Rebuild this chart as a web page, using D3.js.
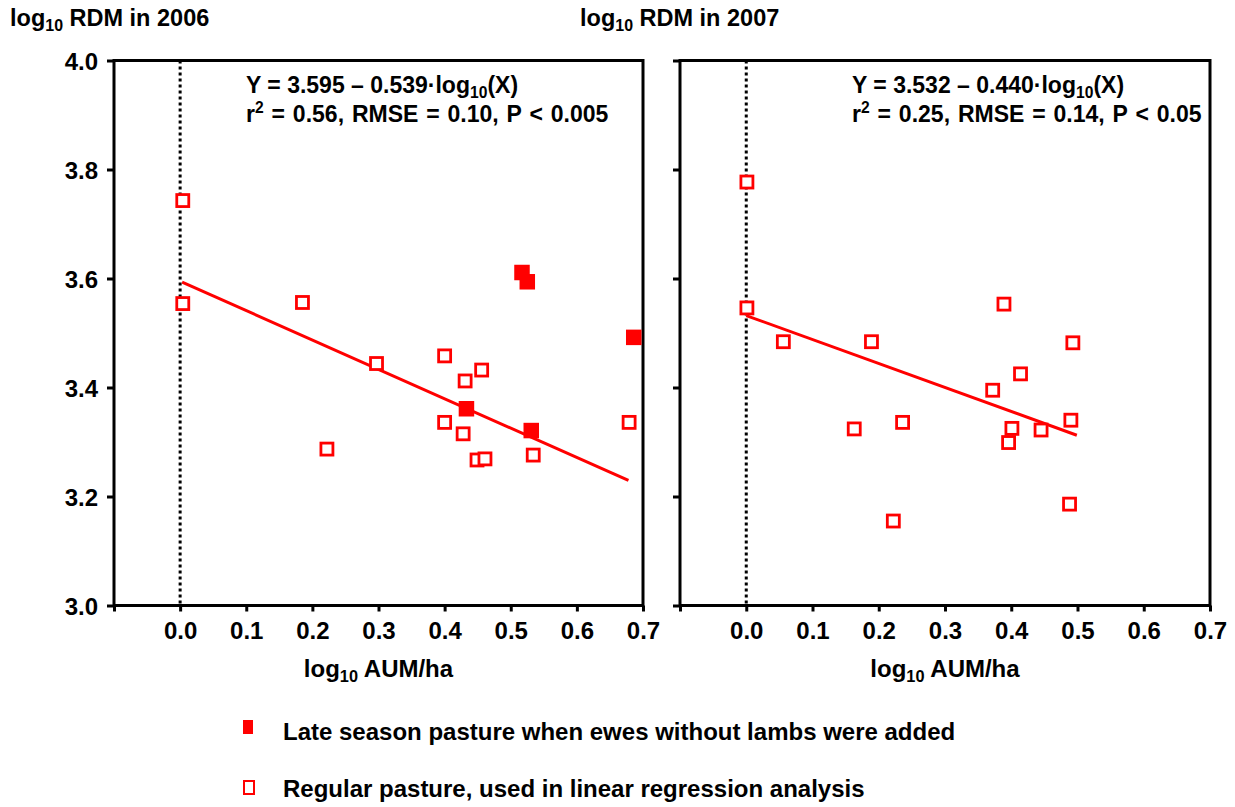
<!DOCTYPE html>
<html><head><meta charset="utf-8">
<script src="https://cdn.jsdelivr.net/npm/d3@7"></script>
<style>body{margin:0;background:#fff}svg{display:block}text{font-family:"Liberation Sans",Arial,sans-serif;font-weight:bold;fill:#000}</style>
</head><body><svg id="c" width="1235" height="807"></svg>
<script>
// ---- data ----
const yTicks = [3.0, 3.2, 3.4, 3.6, 3.8, 4.0];
const xTicks = [-0.1, 0, 0.1, 0.2, 0.3, 0.4, 0.5, 0.6, 0.7];
const xTickLabels = ["", "0.0", "0.1", "0.2", "0.3", "0.4", "0.5", "0.6", "0.7"];
const years = ["2006", "2007"];
// 2006 regular pasture (open squares)
const open2006X = [0.004, 0.004, 0.185, 0.297, 0.400, 0.456, 0.431, 0.400, 0.428, 0.222, 0.449, 0.461, 0.534, 0.679];
const open2006Y = [3.743, 3.554, 3.556, 3.444, 3.458, 3.432, 3.412, 3.336, 3.315, 3.287, 3.267, 3.269, 3.276, 3.336];
// 2006 late season pasture (filled squares)
const filled2006X = [0.517, 0.525, 0.433, 0.531, 0.686];
const filled2006Y = [3.611, 3.594, 3.361, 3.321, 3.492];
// 2007 regular pasture
const open2007X = [0.001, 0.001, 0.056, 0.189, 0.389, 0.493, 0.414, 0.372, 0.163, 0.236, 0.401, 0.445, 0.490, 0.396, 0.488, 0.222];
const open2007Y = [3.777, 3.546, 3.484, 3.484, 3.553, 3.482, 3.425, 3.395, 3.324, 3.336, 3.325, 3.322, 3.340, 3.299, 3.186, 3.155];
const filled2007X = [];
const filled2007Y = [];
// regressions
const intercepts = [3.595, 3.532];
const slopes = [-0.539, -0.440];
const fitRanges = [[0.003, 0.678], [0.0, 0.499]];
const eqLine1 = [["Y = 3.595 \u2013 0.539\u00b7log", "(X)"], ["Y = 3.532 \u2013 0.440\u00b7log", "(X)"]];
const eqLine2 = [["0.56", "0.10", "0.005"], ["0.25", "0.14", "0.05"]];
const legendLabels = ["Late season pasture when ewes without lambs were added", "Regular pasture, used in linear regression analysis"];

// ---- drawing ----
const svg = d3.select("#c");
const RED = "#ff0000";
const yTop = 60.5, yBot = 605.5;
const panels = [
  {x0: 114, x1: 643, openX: open2006X, openY: open2006Y, fillX: filled2006X, fillY: filled2006Y, labels: true, titleX: 10, eqX: 246},
  {x0: 680, x1: 1210, openX: open2007X, openY: open2007Y, fillX: filled2007X, fillY: filled2007Y, labels: false, titleX: 580, eqX: 852}
];
const y = d3.scaleLinear().domain([3.0, 4.0]).range([yBot, yTop]);

panels.forEach((p, i) => {
  const x = d3.scaleLinear().domain([-0.1, 0.7]).range([p.x0, p.x1]);
  const g = svg.append("g");

  // title
  const t = g.append("text").attr("x", p.titleX).attr("y", 26).attr("font-size", 23.5);
  t.append("tspan").text("log");
  t.append("tspan").attr("font-size", "0.68em").attr("dy", 5).text("10");
  t.append("tspan").attr("dy", -5).text(" RDM in " + years[i]);

  // dotted zero line
  g.append("line").attr("x1", x(0)).attr("x2", x(0)).attr("y1", yTop).attr("y2", yBot)
    .attr("stroke", "#000").attr("stroke-width", 3).attr("stroke-dasharray", "3,3");

  // y axis
  const ya = d3.axisLeft(y).tickValues(yTicks).tickSize(7).tickFormat(p.labels ? d3.format(".1f") : () => "");
  const yg = g.append("g").attr("transform", `translate(${p.x0},0)`).call(ya);
  // x axis
  const xa = d3.axisBottom(x).tickValues(xTicks).tickSize(6).tickFormat((d, k) => xTickLabels[k]);
  const xg = g.append("g").attr("transform", `translate(0,${yBot})`).call(xa);
  [yg, xg].forEach(a => {
    a.select(".domain").remove();
    a.selectAll(".tick line").attr("stroke", "#000").attr("stroke-width", 3);
    a.selectAll(".tick text").attr("font-size", 24).attr("font-family", "Liberation Sans, Arial, sans-serif").attr("font-weight", "bold").attr("fill", "#000");
  });
  yg.selectAll(".tick text").attr("x", -16).attr("dy", "0.36em");
  xg.selectAll(".tick text").attr("y", 16);

  // frame
  g.append("rect").attr("x", p.x0).attr("y", yTop).attr("width", p.x1 - p.x0).attr("height", yBot - yTop)
    .attr("fill", "none").attr("stroke", "#000").attr("stroke-width", 3);

  // x axis title
  const xt = g.append("text").attr("x", (p.x0 + p.x1) / 2).attr("y", 677).attr("text-anchor", "middle").attr("font-size", 24);
  xt.append("tspan").text("log");
  xt.append("tspan").attr("font-size", "0.68em").attr("dy", 5).text("10");
  xt.append("tspan").attr("dy", -5).text(" AUM/ha");

  // regression line
  const fx = fitRanges[i];
  g.append("line").attr("x1", x(fx[0])).attr("y1", y(intercepts[i] + slopes[i] * fx[0]))
    .attr("x2", x(fx[1])).attr("y2", y(intercepts[i] + slopes[i] * fx[1]))
    .attr("stroke", RED).attr("stroke-width", 3);

  // open squares
  const s = 12;
  g.selectAll(".o").data(p.openX.map((v, k) => [v, p.openY[k]])).enter().append("rect")
    .attr("x", d => x(d[0]) - s / 2).attr("y", d => y(d[1]) - s / 2).attr("width", s).attr("height", s)
    .attr("fill", "#fff").attr("stroke", RED).attr("stroke-width", 2.8);
  // filled squares
  const f = 15.5;
  g.selectAll(".f").data(p.fillX.map((v, k) => [v, p.fillY[k]])).enter().append("rect")
    .attr("x", d => x(d[0]) - f / 2).attr("y", d => y(d[1]) - f / 2).attr("width", f).attr("height", f)
    .attr("fill", RED);

  // equation
  const e1 = g.append("text").attr("x", p.eqX).attr("y", 93).attr("font-size", 23);
  e1.append("tspan").text(eqLine1[i][0]);
  e1.append("tspan").attr("font-size", "0.68em").attr("dy", 5).text("10");
  e1.append("tspan").attr("dy", -5).text(eqLine1[i][1]);
  const e2 = g.append("text").attr("x", p.eqX).attr("y", 122).attr("font-size", 23).attr("word-spacing", 1.5);
  e2.append("tspan").text("r");
  e2.append("tspan").attr("font-size", "0.68em").attr("dy", -9).text("2");
  e2.append("tspan").attr("dy", 9).text(` = ${eqLine2[i][0]}, RMSE = ${eqLine2[i][1]}, P < ${eqLine2[i][2]}`);
});

// legend
const lg = svg.append("g");
lg.append("rect").attr("x", 243).attr("y", 720).attr("width", 10).attr("height", 14).attr("fill", RED);
lg.append("rect").attr("x", 244).attr("y", 781).attr("width", 10).attr("height", 13).attr("fill", "#fff").attr("stroke", RED).attr("stroke-width", 2);
lg.selectAll(".lt").data(legendLabels).enter().append("text")
  .attr("x", 283).attr("y", (d, k) => 740 + k * 57).attr("font-size", 24).text(d => d);
</script></body></html>
